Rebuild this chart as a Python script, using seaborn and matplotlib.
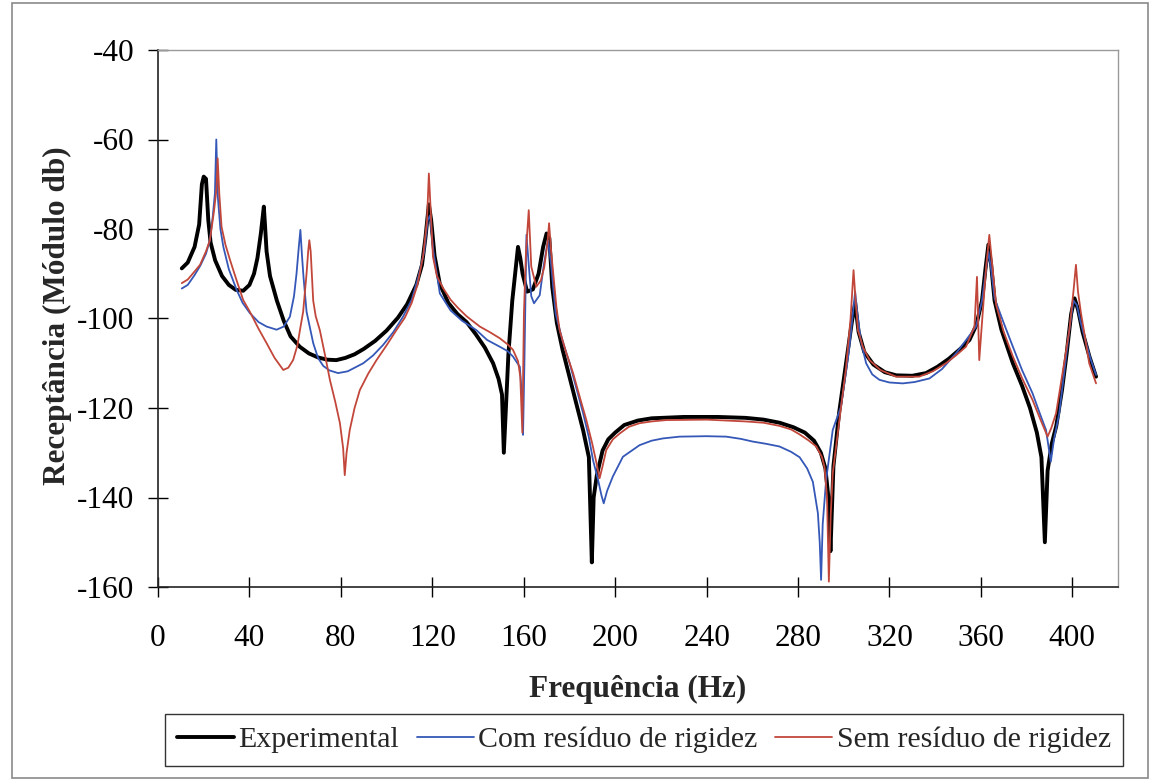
import pandas as pd
import matplotlib.pyplot as plt
import seaborn as sns
from matplotlib.patches import Rectangle

# ---- data ----
freq_exp = [10.4, 13, 16, 18, 19.2, 20, 21, 22, 23, 25, 28, 31, 34, 37.3, 40, 42, 43.5, 45, 46.3, 46.8,
            47.5, 49, 52, 55, 58, 62, 66, 70, 74, 78, 82, 86, 90, 95, 100, 105, 109, 113, 115.5, 117,
            118.5, 119.5, 121, 123.3, 127, 131, 135, 139, 143, 146.6, 149, 150.5, 151.3, 152.2, 153.3, 155,
            157.5, 158.5, 159.5, 161.5, 164, 166.5, 168.5, 170, 171.2, 172.5, 174.5, 177, 180, 183,
            186, 188.5, 189.8, 190.6, 192, 194.5, 197, 200, 204, 210, 216, 230, 245, 257, 265, 272,
            278, 283, 287, 290, 292, 293.5, 294.2, 295.5, 298, 301, 303.5, 305, 306.5, 309, 313, 318,
            323, 330, 336, 341, 346, 351, 355, 358, 360.5, 362, 363.3, 364.5, 366, 369, 374, 378,
            381.5, 384.5, 386.5, 388, 389.2, 391, 393, 395.5, 397.5, 399.5, 401, 402.5, 404.5, 407.5, 410.4]
exp_db = [-88.8, -87.5, -84, -79, -70, -68.3, -68.8, -78, -83, -87, -90.5, -92.5, -93.6, -93.8, -92.5, -90, -86.5, -81, -75, -79,
          -85, -90.5, -96, -100.5, -104, -106.3, -107.8, -108.7, -109.2, -109.3, -108.8, -108, -106.8, -105, -102.7, -99.8, -96.8, -92.5, -88, -82,
          -74.5, -78, -86, -92.3, -96.5, -99, -100.8, -103.5, -106.5, -110, -113.5, -117, -130, -120, -108, -96,
          -84, -86.5, -90, -94, -93.5, -90, -84, -81, -82, -93, -101, -107, -113, -119,
          -125, -131, -154.5, -140, -135, -129.5, -127, -125.5, -123.8, -122.8, -122.3, -122, -122, -122.2, -122.6, -123.3,
          -124.3, -125.5, -127.3, -130, -133.5, -141, -152, -133, -121, -110, -101, -96.5, -103, -107.5, -110.3, -112,
          -112.7, -112.8, -112.2, -110.8, -109, -106.8, -104.8, -101.5, -96, -89, -83.5, -88, -96, -102.5, -110, -115,
          -120, -125.5, -131, -150, -134, -128, -124, -116, -108, -99, -95.5, -98, -103, -108.5, -113]

freq_com = [10.4, 13, 16, 18.5, 21, 22.7, 24, 24.9, 25.5, 26.2, 27.3, 28.6, 31, 34.4, 37, 40.2, 44, 47.5, 51.9, 55,
            57.7, 59.5, 60.6, 61.6, 62.3, 63, 63.7, 65, 67.9, 70, 72.3, 75, 78.8, 83, 89.8, 94, 98.5, 103, 107.2, 111,
            114, 116.5, 118, 119, 120.5, 123.3, 128, 133, 139.3, 144, 149.5, 153, 155.3, 158.3, 159.3, 159.7, 160.3, 161.2,
            162.2, 163.3, 164.5, 167, 168.8, 170.6, 172, 174, 177, 180.1, 183, 186, 188.5, 190.3, 192.5, 194, 195, 196.5,
            199, 203.4, 210.7, 216, 220.9, 228.2, 240, 248.6, 255, 260.2, 266, 271.9, 277, 280.7, 284, 286.5, 288.7,
            289.5, 290.1, 290.8, 292.3, 295.2, 298.8, 301, 302.5, 304, 305, 306, 307.5, 309.8, 312.5, 315.6, 320, 325.8,
            331, 337.5, 343, 349.1, 354, 357.9, 360.5, 362, 363.3, 364.5, 366, 370, 374, 378, 382.6, 386, 388.5, 390.6,
            392, 394.3, 396.5, 398.7, 400.5, 402, 403.5, 405.5, 408, 410.4]
com_db = [-93.3, -92.5, -90.3, -88.2, -85.5, -82.5, -77, -72, -60, -73, -80, -84, -89, -93.6, -96.5, -98.8, -100.8, -101.8, -102.5, -101.8,
          -99.6, -95, -90, -84, -80.2, -86, -91, -98.5, -105.5, -108.8, -110.6, -111.6, -112.2, -111.8, -110, -108.3, -105.9, -103, -99.6, -95.8,
          -90.5, -85, -78, -77, -85, -94.4, -98.2, -100.5, -102.6, -104.8, -106.3, -107.3, -108.5, -110.8, -118, -126, -110, -81.3,
          -88, -95, -96.6, -94.8, -88, -82.5, -88, -99, -105, -110, -115.5, -121.2, -126.5, -131.6, -136, -139.5, -141.3, -138.5,
          -135.3, -130.9, -128.3, -127.3, -126.8, -126.4, -126.3, -126.4, -126.9, -127.5, -128, -128.6, -129.8, -131, -133.5, -136.5, -143.5,
          -150, -158.4, -146, -136.1, -124.9, -119.7, -112, -106.3, -99, -94, -99, -105, -110, -112.5, -113.7, -114.3, -114.5,
          -114.2, -113.4, -111.3, -107.8, -104.5, -101.8, -96, -90, -85, -89, -95.5, -101, -106.3, -111.5, -116.7, -121.5, -124.9, -132,
          -127, -121.2, -112, -102.6, -96, -97, -100.5, -104.5, -109, -112.6]

freq_sem = [10.4, 13, 16, 18.4, 21, 22.7, 24.5, 25.6, 26.1, 26.8, 27.8, 29.5, 31.5, 34.4, 37.3, 40.2, 44, 47.5, 51, 54.8,
            57, 59.1, 61, 62.1, 63.5, 65, 65.7, 66.2, 66.8, 67.9, 69, 70.8, 73, 75.2, 77.5, 79.6, 81, 81.7, 82.5, 83.9,
            86, 88.3, 92, 95.6, 100, 104.3, 108, 111, 113.5, 116, 117.7, 118.5, 119.3, 120.3, 122, 124.7, 128, 131, 135,
            140.8, 145, 149.5, 153, 155.3, 157.5, 158.5, 159.4, 160.1, 161, 162.2, 163.3, 165.5, 167.5, 169, 170.4, 171.1,
            172, 174.3, 175.7, 178.5, 181.6, 184.5, 187.4, 190, 191.5, 193.2, 194.5, 196.1, 199, 202, 206, 210.7, 216,
            222.4, 240, 257, 265, 271.9, 277, 280.7, 284.5, 288, 290.5, 291.6, 292.7, 293.5, 294.3, 295.2, 298.1, 301,
            303, 304.3, 305.2, 306.2, 308.5, 311.3, 316, 322.9, 333, 339, 344.7, 349, 353.5, 357.2, 358.3, 359.3, 360.8,
            362.4, 363.7, 364.8, 366.7, 370, 374, 378, 382.6, 386, 389.2, 390.8, 392.9, 395.8, 398.7, 400.5, 401.6, 402.5,
            403.8, 405.5, 407.4, 410.4]
sem_db = [-92.1, -91.3, -89.5, -88, -85, -82.5, -76, -71, -64.2, -72, -79.5, -83.5, -86.9, -91.5, -95.9, -98.5, -102.3, -105.5, -108.8, -111.5,
          -111, -109.3, -106, -102.6, -98.5, -89.9, -85, -82.5, -85, -96, -99.5, -102.6, -108, -113.7, -118.5, -123.4, -129, -135, -130, -124.9,
          -120, -116, -112.3, -109.3, -106, -102.6, -99.8, -96.5, -92.5, -86, -78, -67.6, -76, -86.2, -90.5, -93.2, -95.8, -97.5, -99.5,
          -101.8, -103, -104.4, -105.8, -107, -109.5, -113, -125.5, -98.8, -85, -75.8, -88.4, -92.9, -91.5, -88.5, -83, -78.7,
          -85, -97.4, -102.6, -107.5, -112.2, -117.5, -122.7, -128, -131.5, -135.7, -133, -129.4, -127, -125.7, -124.2, -123.4, -123,
          -122.7, -122.6, -123, -123.3, -124, -124.8, -125.9, -127.2, -128.6, -131, -133.2, -140, -158.8, -144, -134.6, -122.7, -111.1,
          -100, -89.2, -96, -102.6, -106.5, -109.3, -111.5, -113, -113, -111.8, -110, -108.3, -106.3, -101.8, -90.7, -109.3, -98.8,
          -88, -81.3, -87, -97, -103, -108.5, -113.3, -118.2, -122.5, -126.4, -124.5, -121.2, -112, -102.6, -94, -88, -94,
          -98.8, -104, -110, -114.5]

series_names = ['Experimental', 'Com resíduo de rigidez', 'Sem resíduo de rigidez']
series_colors = ['#000000', '#3558b8', '#c2473a']
series_widths = [2.8, 1.3, 1.3]
x_ticks = list(range(0, 401, 40))
y_ticks = list(range(-160, -39, 20))

# ---- plot ----
sns.set_style('ticks')
plt.rcParams['font.family'] = ['Liberation Serif', 'DejaVu Serif']
plt.rcParams['axes.unicode_minus'] = False

fig = plt.figure(figsize=(11.52, 7.81), dpi=100)
ax = fig.add_axes([158 / 1152, 1 - 587 / 781, 960 / 1152, 537 / 781])

data = [(freq_exp, exp_db), (freq_com, com_db), (freq_sem, sem_db)]
for (f, v), name, col, lw in zip(data, series_names, series_colors, series_widths):
    df = pd.DataFrame({'Frequência': f, 'Receptância': v})
    sns.lineplot(data=df, x='Frequência', y='Receptância', ax=ax, color=col,
                 linewidth=lw, label=name, estimator=None, sort=False)

ax.set_xlim(0, 420)
ax.set_ylim(-160, -40)
ax.set_xticks(x_ticks)
ax.set_yticks(y_ticks)
ax.tick_params(axis='both', direction='inout', length=14, width=1, labelsize=22.5, colors='black')
ax.tick_params(axis='x', pad=20)
ax.tick_params(axis='y', pad=10)

for side in ['left', 'bottom']:
    ax.spines[side].set_color('#222222')
    ax.spines[side].set_linewidth(1.2)
for side in ['top', 'right']:
    ax.spines[side].set_visible(True)
    ax.spines[side].set_color('#9a9a9a')
    ax.spines[side].set_linewidth(1.0)

ax.set_xlabel('Frequência (Hz)', fontsize=22.5, fontweight='bold')
ax.set_ylabel('Receptância (Módulo db)', fontsize=22.5, fontweight='bold')
ax.xaxis.set_label_coords(0.5, -0.163)
ax.yaxis.set_label_coords(-0.09, 0.505)

handles, labels = ax.get_legend_handles_labels()
ax.get_legend().remove()
leg = fig.legend(handles, labels, loc='center', bbox_to_anchor=(644 / 1152, 1 - 740 / 781),
                 ncol=3, fontsize=21.5, frameon=True, fancybox=False, handlelength=1.9,
                 handletextpad=0.15, columnspacing=0.6, borderpad=0.42)
leg.get_frame().set_edgecolor('black')
leg.get_frame().set_linewidth(1.0)

# outer chart frame
fig.patches.append(Rectangle((12 / 1152, 3 / 781), 1136 / 1152, 775 / 781, transform=fig.transFigure,
                             fill=False, edgecolor='#8a8a8a', linewidth=1.2))

fig.savefig('out.png', dpi=100)
